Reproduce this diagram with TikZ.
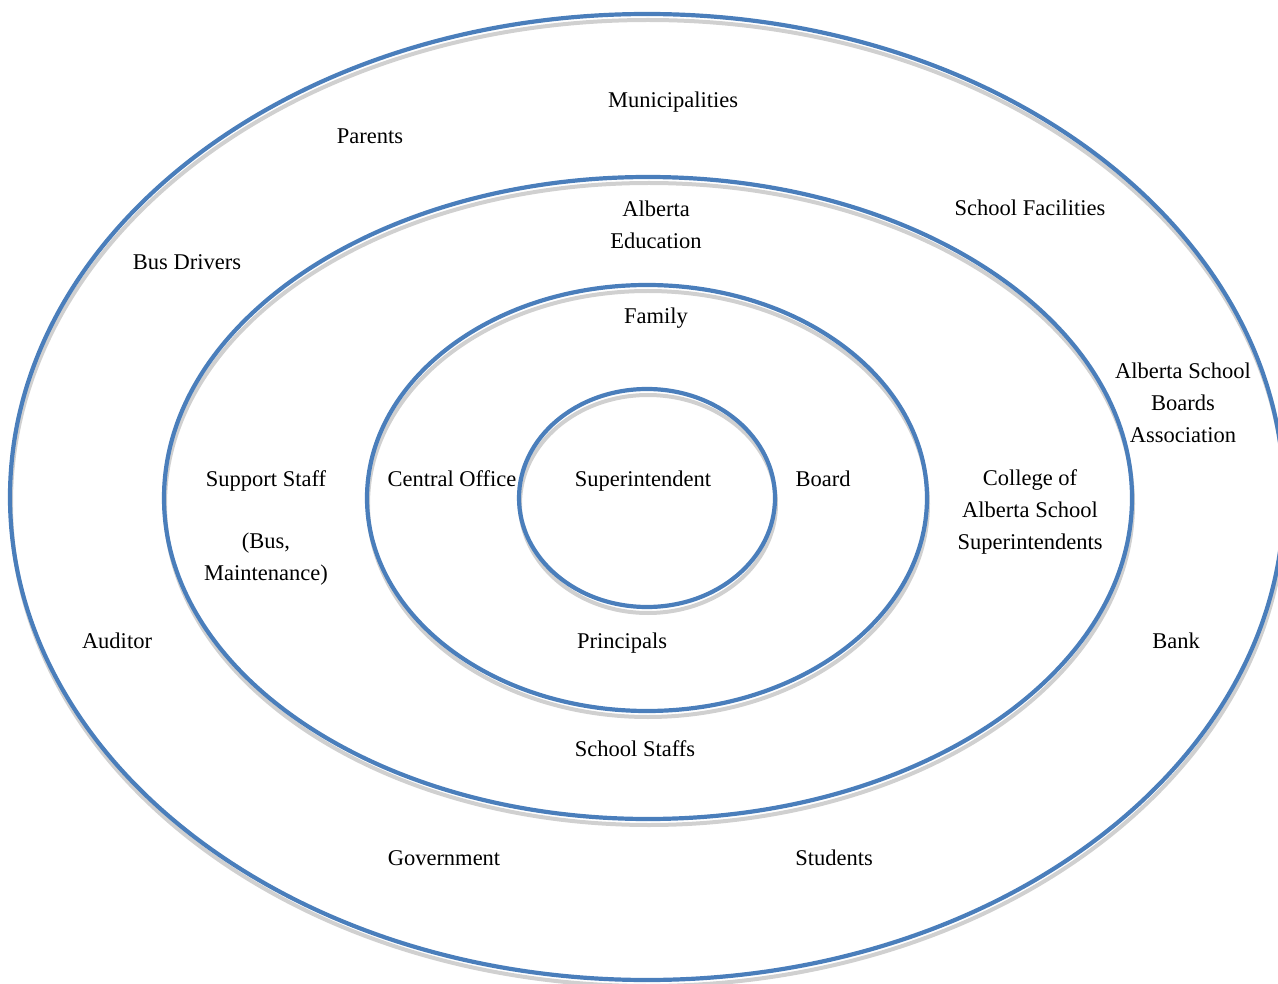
\documentclass[tikz,border=0pt]{standalone}
\usepackage{fontspec}
\setmainfont{Liberation Serif}
\usepackage{tikz}
\usetikzlibrary{shapes}
\definecolor{ringblau}{RGB}{74,126,187}
\definecolor{ringschatten}{RGB}{208,208,208}
\newcommand{\schrift}{\fontsize{22.5}{32}\selectfont}
\tikzset{
  ring/.style={draw=ringblau,line width=4.2pt},
  schatten/.style={draw=ringschatten,line width=4pt},
  beschriftung/.style={font=\schrift,align=center,inner sep=0pt,anchor=center},
  zeile/.style={font=\schrift,inner sep=0pt,anchor=base}
}

\begin{document}
\begin{tikzpicture}[x=1pt,y=-1pt]
  \useasboundingbox (0,0) rectangle (1278,984);
  % Schatten der Ringe
  \draw[schatten] (648,503) ellipse[x radius=637,y radius=483]
  (649,504) ellipse[x radius=484,y radius=321]
  (648,504) ellipse[x radius=280,y radius=213]
  (648,504) ellipse[x radius=128,y radius=109];
  % Ringe
  \draw[ring] (647,497) ellipse[x radius=637,y radius=483]
  (648,498) ellipse[x radius=484,y radius=321]
  (647,498) ellipse[x radius=280,y radius=213]
  (647,498) ellipse[x radius=128,y radius=109];
  % aeusserer Ring
  \path
  (673,108) node[zeile] (municipalities) {Municipalities}
  (370,144) node[zeile] (parents) {Parents}
  (1030,216) node[zeile] (facilities) {School Facilities}
  (187,270) node[zeile] (busdrivers) {Bus Drivers}
  (1183,403) node[beschriftung] (asba) {Alberta School\\Boards\\Association}
  (117,648) node[zeile] (auditor) {Auditor}
  (1176,648) node[zeile] (bank) {Bank}
  (444,865) node[zeile] (government) {Government}
  (834,865) node[zeile] (students) {Students}
  ;
  % zweiter Ring
  \path
  (656,225) node[beschriftung] (albertaedu) {Alberta\\Education}
  (266,486) node[zeile] (support) {Support Staff}
  (266,559.5) node[beschriftung] (supportdetail) {(Bus,\\Maintenance)}
  (1030,512) node[beschriftung] (college) {College of\\Alberta School\\Superintendents}
  (635,756) node[zeile] (schoolstaffs) {School Staffs}
  ;
  % dritter Ring
  \path
  (656,324) node[zeile] (family) {Family}
  (452,486) node[zeile] (central) {Central Office}
  (823,486) node[zeile] (board) {Board}
  (622,648) node[zeile] (principals) {Principals}
  ;
  % Mitte
  \node[zeile] (superintendent) at (643,486) {Superintendent};
\end{tikzpicture}
\end{document}
